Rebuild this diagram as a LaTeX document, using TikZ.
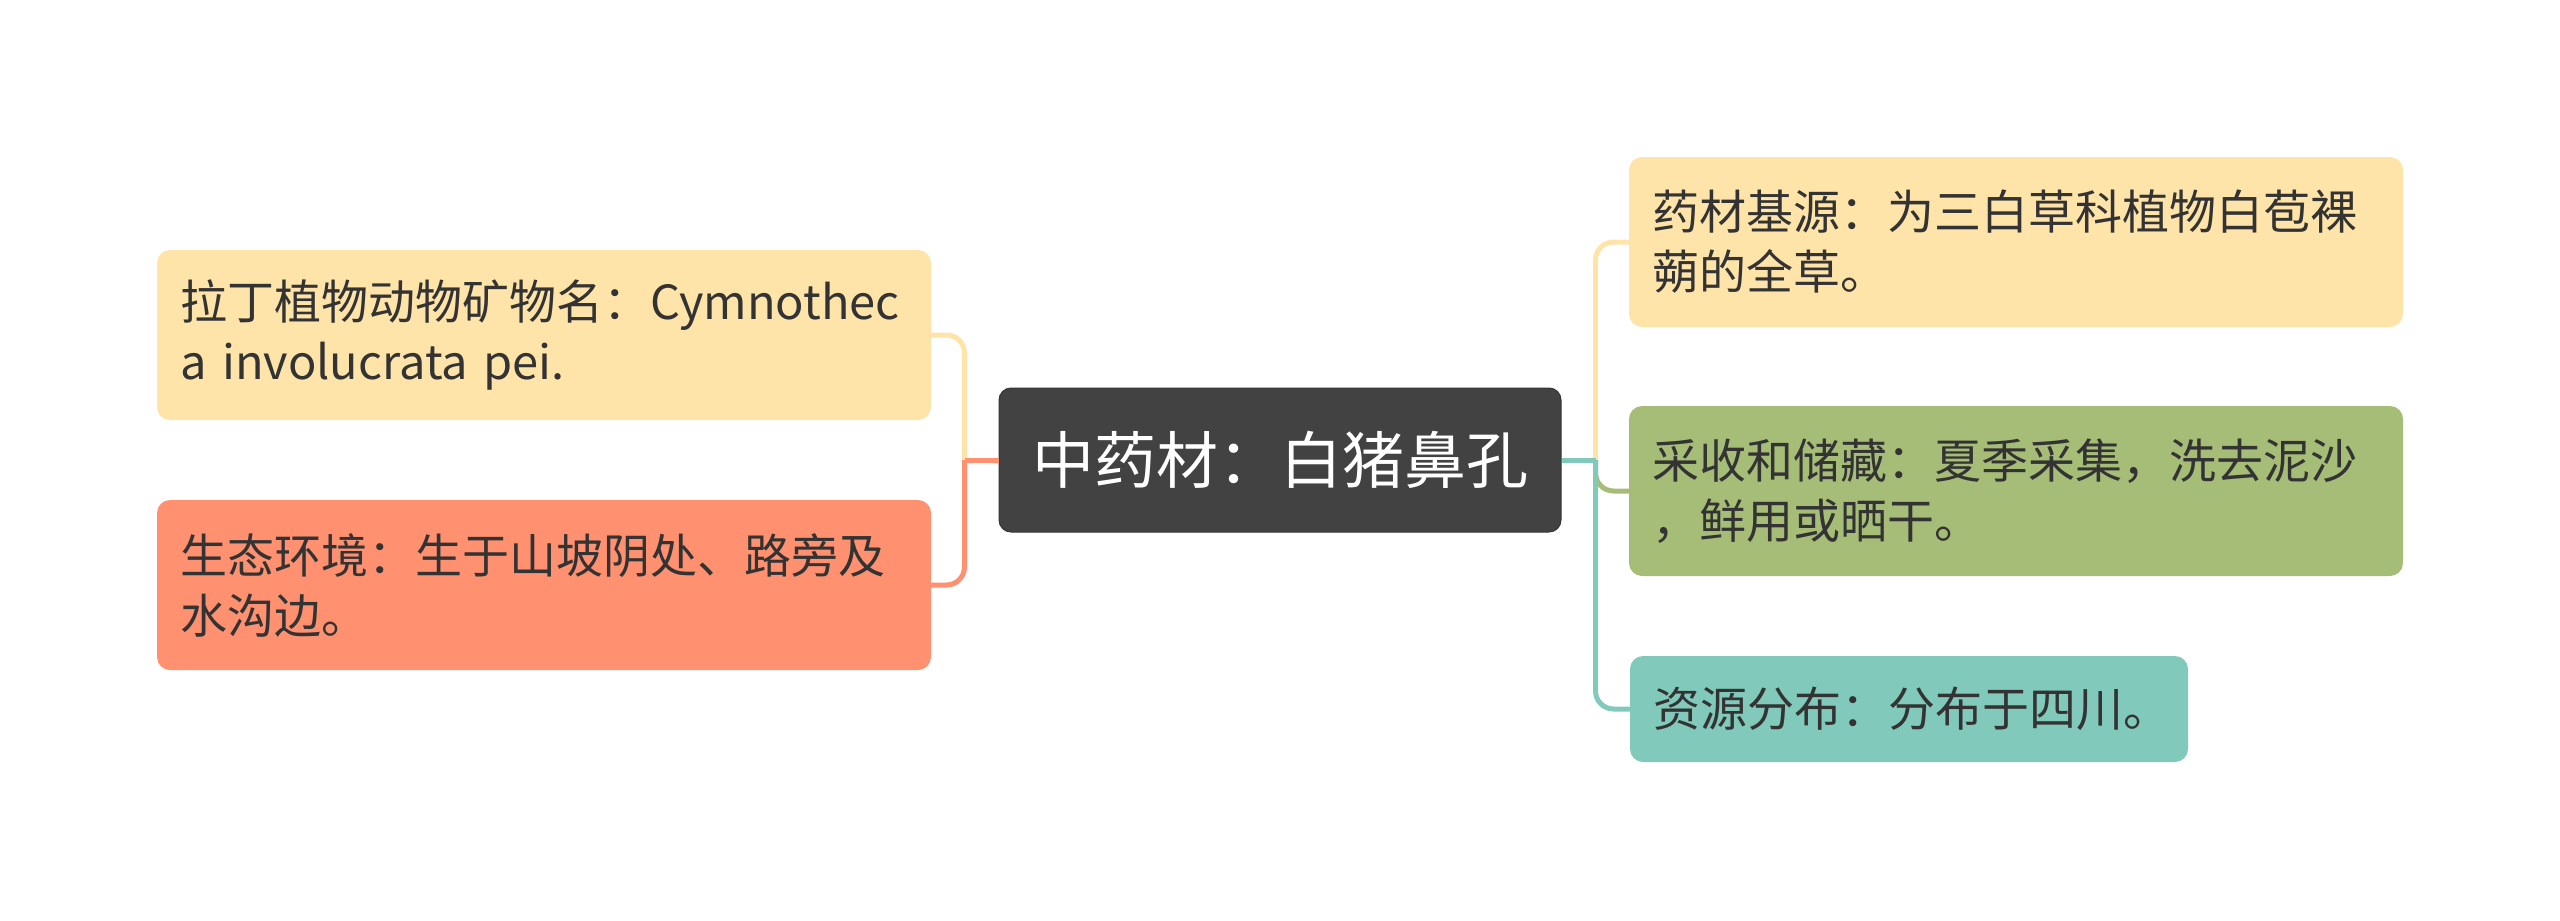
\documentclass[tikz,border=0pt]{standalone}
\usepackage{fontspec}
\setmainfont{Noto Sans CJK SC}
\usetikzlibrary{positioning}
\definecolor{rootgray}{HTML}{424242}
\definecolor{inkgray}{HTML}{333333}
\definecolor{leafyellow}{HTML}{FFE4A9}
\definecolor{leafsalmon}{HTML}{FF9170}
\definecolor{leafgreen}{HTML}{A6BD77}
\definecolor{leafteal}{HTML}{81CABB}

\begin{document}
\begin{tikzpicture}[x=1pt,y=-1pt,
  root/.style={fill=rootgray,draw=rootgray!80!black,line width=1pt,rounded corners=12pt,
    minimum width=562pt,minimum height=144pt,text=white,font=\fontsize{62}{74}\selectfont},
  leaf/.style={rounded corners=13pt,inner xsep=23pt,inner ysep=0pt,text width=728pt,
    minimum height=170pt,align=left,text=inkgray,font=\fontsize{47}{60}\selectfont},
  branch/.style={line width=5pt,rounded corners=18pt}]
  \useasboundingbox (0,0) rectangle (2560,921);
  \node[root] (root) at (1280,460) {中药材：白猪鼻孔};
  % left side
  \node[leaf,fill=leafyellow] (latin) at (544,335) {拉丁植物动物矿物名：Cymnothec\\a involucrata pei.};
  \node[leaf,fill=leafsalmon] (habitat) at (544,585) {生态环境：生于山坡阴处、路旁及\\水沟边。};
  % right side
  \node[leaf,fill=leafyellow] (origin) at (2016,242) {药材基源：为三白草科植物白苞裸\\蒴的全草。};
  \node[leaf,fill=leafgreen] (harvest) at (2016,491) {采收和储藏：夏季采集，洗去泥沙\\，鲜用或晒干。};
  \node[leaf,fill=leafteal,text width=512pt,minimum height=106pt] (range) at (1909,709) {资源分布：分布于四川。};
  \coordinate (rjoint) at ([xshift=34pt]root.east);
  \coordinate (ljoint) at ([xshift=-34pt]root.west);
  \draw[branch,leafyellow] (rjoint) |- (origin.west);
  \draw[branch,leafgreen] (rjoint) |- (harvest.west);
  \draw[branch,leafteal] (rjoint) |- (range.west);
  \draw[branch,leafteal] (root.east) -- (rjoint);
  \draw[branch,leafyellow] (ljoint) |- (latin.east);
  \draw[branch,leafsalmon] (ljoint) |- (habitat.east);
  \draw[branch,leafsalmon] (root.west) -- (ljoint);
\end{tikzpicture}
\end{document}
